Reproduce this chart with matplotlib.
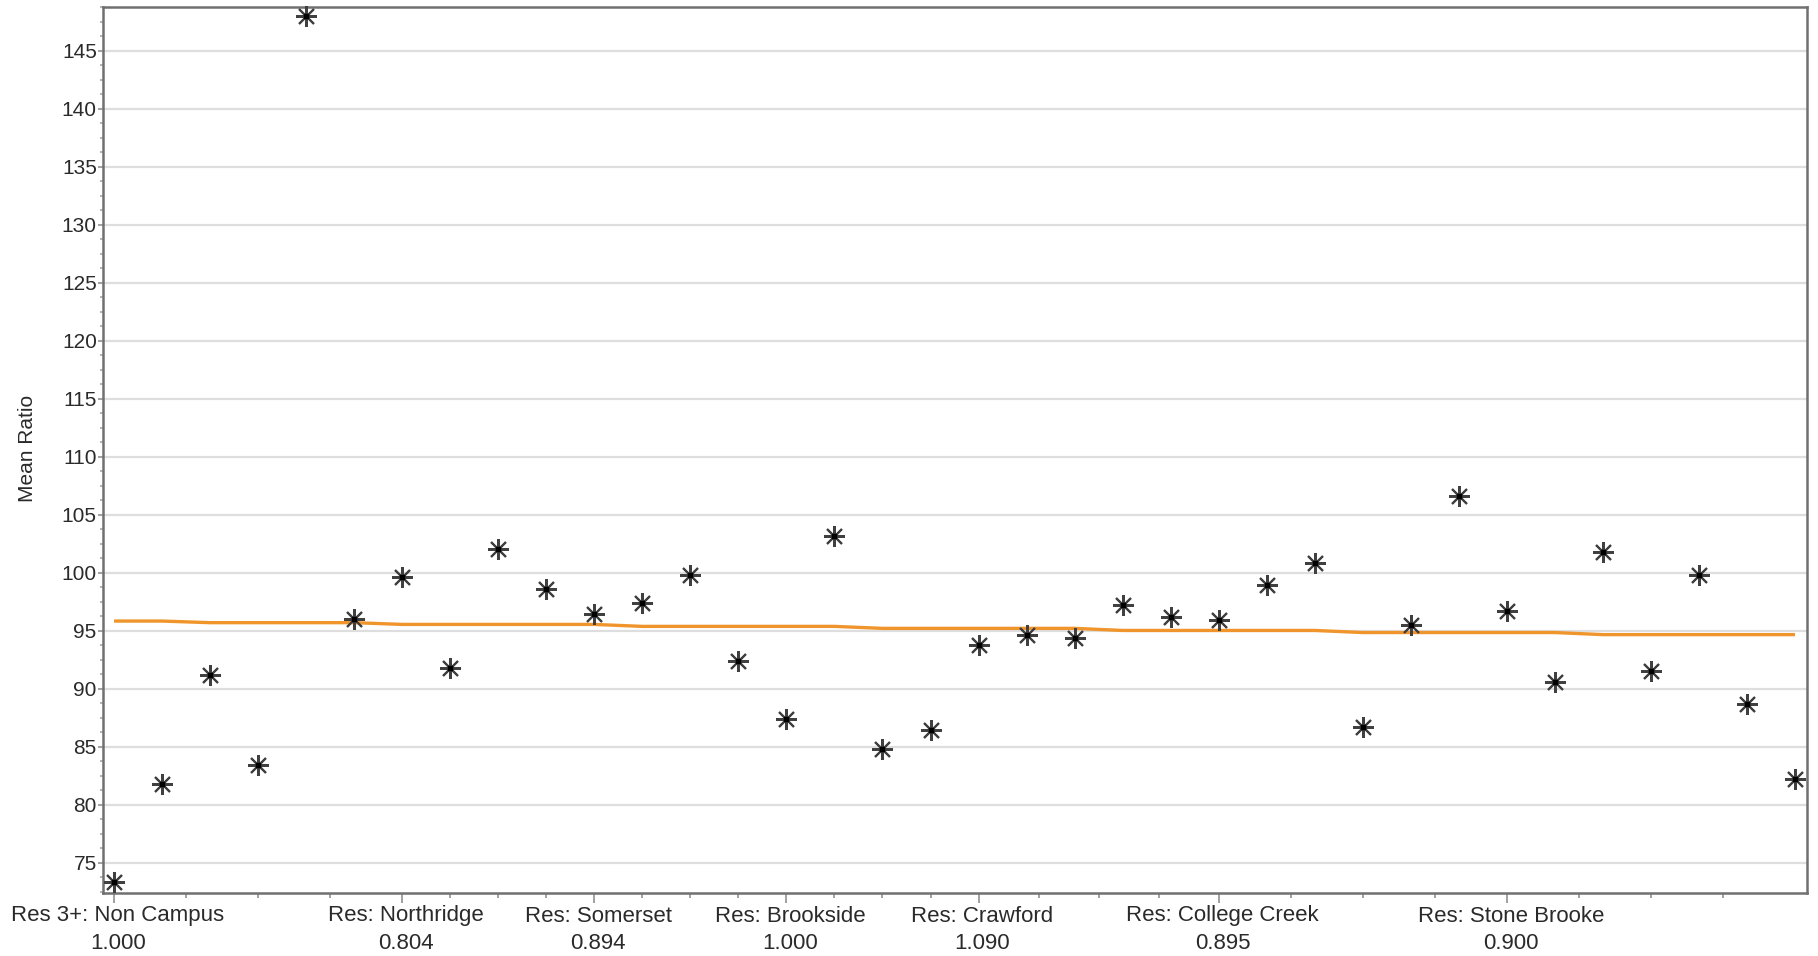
import numpy as np
import matplotlib
matplotlib.use("Agg")
import matplotlib.pyplot as plt
from matplotlib.ticker import FixedLocator, MultipleLocator
from matplotlib.transforms import ScaledTranslation

plt.rcParams['font.family'] = ['Liberation Sans', 'DejaVu Sans']

# Residence groups shown along the x axis (label, adjustment factor, number of records)
group_names = ["Res 3+: Non Campus", "Res: Northridge", "Res: Somerset", "Res: Brookside",
               "Res: Crawford", "Res: College Creek", "Res: Stone Brooke"]
group_factors = ["1.000", "0.804", "0.894", "1.000", "1.090", "0.895", "0.900"]
group_counts = [6, 4, 4, 4, 5, 6, 7]

# Mean ratio of each record
mean_ratio = [73.3, 81.8, 91.2, 83.4, 148.0, 96.0, 99.6, 91.8, 102.0, 98.6,
              96.4, 97.4, 99.8, 92.4, 87.4, 103.2, 84.8, 86.4, 93.8, 94.6,
              94.4, 97.2, 96.2, 95.9, 98.9, 100.8, 86.7, 95.5, 106.6, 96.7,
              90.6, 101.8, 91.5, 99.8, 88.7, 82.2]

# Trend of the mean ratio across records
trend = [95.83, 95.83, 95.69, 95.69, 95.69, 95.69,
         95.54, 95.54, 95.54, 95.54, 95.54,
         95.37, 95.37, 95.37, 95.37, 95.37,
         95.20, 95.20, 95.20, 95.20, 95.20,
         95.02, 95.02, 95.02, 95.02, 95.02,
         94.84, 94.84, 94.84, 94.84, 94.84,
         94.66, 94.66, 94.66, 94.66, 94.66]

x = np.arange(len(mean_ratio))

W, H = 1818, 956
fig = plt.figure(figsize=(W / 100, H / 100), dpi=100)
ax = fig.add_axes([103 / W, 1 - 893 / H, (1807 - 103) / W, (893 - 6.5) / H])

grid_c = '#dedede'
spine_c = '#707070'
text_c = '#2a2a2a'

ax.set_xlim(-0.23, 35.25)
ax.set_ylim(72.39, 148.8)

# horizontal grid
ax.yaxis.set_major_locator(MultipleLocator(5))
ax.yaxis.set_minor_locator(MultipleLocator(1.25))
ax.grid(axis='y', which='major', color=grid_c, linewidth=1.6, zorder=0)
ax.set_axisbelow(True)

# trend line and points
ax.plot(x, trend, color='#f0952b', linewidth=2.4, zorder=2, solid_capstyle='butt')
ax.plot(x, mean_ratio, linestyle='none', marker=(8, 2, 0), markersize=15,
        markeredgewidth=1.5, markeredgecolor='#404040', zorder=3, clip_on=False)
ax.plot(x, mean_ratio, linestyle='none', marker='s', markersize=3,
        markerfacecolor='black', markeredgecolor='black', zorder=4, clip_on=False)

# x ticks: group starts carry labels, each group split in quarters
starts = np.concatenate([[0], np.cumsum(group_counts)[:-1]])
ends = np.concatenate([starts[1:], [len(mean_ratio) - 1]])
minor = []
for s, e in zip(starts, ends):
    step = (e - s) / 4
    minor += [s + k * step for k in range(1, 4)]
ax.xaxis.set_major_locator(FixedLocator(starts))
ax.xaxis.set_minor_locator(FixedLocator(minor))
ax.set_xticklabels([f"{n}\n{f}" for n, f in zip(group_names, group_factors)],
                   linespacing=1.4)

ax.tick_params(axis='x', which='major', length=7, width=1.3, color='#9a9a9a',
               labelsize=16, labelcolor=text_c, pad=2)
ax.tick_params(axis='x', which='minor', length=3.5, width=1.3, color='#9a9a9a')
ax.tick_params(axis='y', which='major', length=3.5, width=1.3, color='#9a9a9a',
               labelsize=15, labelcolor=text_c, pad=1)
ax.tick_params(axis='y', which='minor', length=2.5, width=1.3, color='#b0b0b0')

# nudge group labels slightly to the right of their tick
shift = ScaledTranslation(4 / 100, 0, fig.dpi_scale_trans)
for lbl in ax.get_xticklabels():
    lbl.set_transform(lbl.get_transform() + shift)

for sp in ax.spines.values():
    sp.set_color(spine_c)
    sp.set_linewidth(1.8)

ax.set_ylabel("Mean Ratio", fontsize=15, color=text_c)
ax.yaxis.set_label_coords(-0.039, 0.502)

fig.savefig("out.png", dpi=100, facecolor='white')
